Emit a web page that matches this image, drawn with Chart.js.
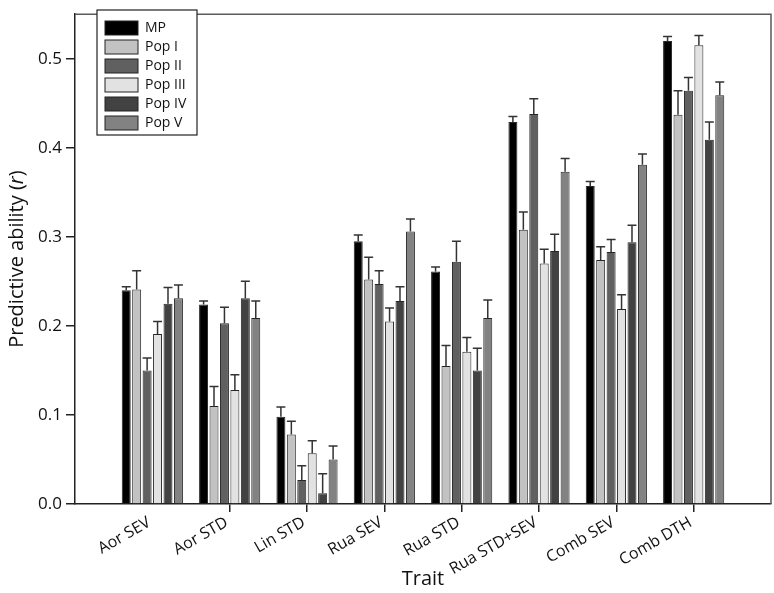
<!DOCTYPE html>
<html>
<head>
<meta charset="utf-8">
<title>Predictive ability by trait</title>
<script src="https://cdn.jsdelivr.net/npm/chart.js@4.4.1/dist/chart.umd.min.js"></script>
<style>
    html, body { margin: 0; padding: 0; background: #fff; }
    #chartBox { width: 774px; height: 593px; }
</style>
</head>
<body>
<div id="chartBox"><canvas id="abilityChart" width="774" height="593"></canvas></div>
<script>
// Traits on the x axis
const traits = ['Aor SEV', 'Aor STD', 'Lin STD', 'Rua SEV', 'Rua STD', 'Rua STD+SEV', 'Comb SEV', 'Comb DTH'];

// Mean predictive ability per population
const mpValues   = [0.240, 0.224, 0.098, 0.295, 0.261, 0.429, 0.357, 0.520];
const pop1Values = [0.241, 0.110, 0.078, 0.252, 0.155, 0.308, 0.274, 0.437];
const pop2Values = [0.150, 0.203, 0.027, 0.247, 0.272, 0.438, 0.283, 0.464];
const pop3Values = [0.191, 0.128, 0.057, 0.205, 0.171, 0.270, 0.219, 0.515];
const pop4Values = [0.225, 0.231, 0.012, 0.228, 0.150, 0.284, 0.294, 0.409];
const pop5Values = [0.231, 0.209, 0.050, 0.306, 0.209, 0.373, 0.381, 0.459];

// Standard errors (drawn upward only)
const mpErrors   = [0.004, 0.004, 0.011, 0.007, 0.005, 0.006, 0.005, 0.005];
const pop1Errors = [0.021, 0.022, 0.015, 0.025, 0.023, 0.020, 0.015, 0.027];
const pop2Errors = [0.014, 0.018, 0.016, 0.015, 0.023, 0.017, 0.014, 0.015];
const pop3Errors = [0.014, 0.017, 0.014, 0.015, 0.016, 0.016, 0.016, 0.011];
const pop4Errors = [0.018, 0.019, 0.022, 0.016, 0.025, 0.019, 0.019, 0.020];
const pop5Errors = [0.015, 0.019, 0.015, 0.014, 0.020, 0.015, 0.012, 0.015];

// Y axis ticks
const yTicks = [0.0, 0.1, 0.2, 0.3, 0.4, 0.5];

const FONT = '"Open Sans", "Noto Sans", sans-serif';

// one empty slot each side, like the original axis range
function pad(arr) {
    return [null].concat(arr, [null]);
}

const series = [
    { label: 'MP',     values: mpValues,   errors: mpErrors,   color: '#000000' },
    { label: 'Pop I',  values: pop1Values, errors: pop1Errors, color: '#c2c2c2' },
    { label: 'Pop II', values: pop2Values, errors: pop2Errors, color: '#606060' },
    { label: 'Pop III', values: pop3Values, errors: pop3Errors, color: '#e2e2e2' },
    { label: 'Pop IV', values: pop4Values, errors: pop4Errors, color: '#424242' },
    { label: 'Pop V',  values: pop5Values, errors: pop5Errors, color: '#828282' }
];

// Error bars on top of every bar
const errorBarPlugin = {
    id: 'errorBars',
    afterDatasetsDraw(chart) {
        const ctx = chart.ctx;
        const yScale = chart.scales.y;
        ctx.save();
        ctx.strokeStyle = '#333';
        ctx.lineWidth = 1.5;
        chart.data.datasets.forEach((ds, di) => {
            const meta = chart.getDatasetMeta(di);
            meta.data.forEach((bar, i) => {
                const v = ds.data[i];
                if (v === null) return;
                const err = ds.errors[i];
                const yTop = yScale.getPixelForValue(v);
                const yErr = yScale.getPixelForValue(v + err);
                const half = bar.width / 2;
                ctx.beginPath();
                ctx.moveTo(bar.x, yTop);
                ctx.lineTo(bar.x, yErr);
                ctx.moveTo(bar.x - half, yErr);
                ctx.lineTo(bar.x + half, yErr);
                ctx.stroke();
            });
        });
        ctx.restore();
    }
};

// Top/right frame, boxed legend and the y title with italic r
const decorPlugin = {
    id: 'decor',
    afterDraw(chart) {
        const ctx = chart.ctx;
        const area = chart.chartArea;
        ctx.save();

        // frame
        ctx.strokeStyle = '#5a5a5a';
        ctx.lineWidth = 1.5;
        ctx.beginPath();
        ctx.moveTo(area.left, area.top);
        ctx.lineTo(area.right, area.top);
        ctx.lineTo(area.right, area.bottom);
        ctx.stroke();

        // legend
        ctx.fillStyle = '#fff';
        ctx.fillRect(97, 10, 100, 125);
        ctx.strokeStyle = '#222';
        ctx.lineWidth = 1.2;
        ctx.strokeRect(97, 10, 100, 125);
        ctx.font = '14px ' + FONT;
        ctx.textBaseline = 'middle';
        chart.data.datasets.forEach((ds, i) => {
            const y = 21 + i * 19;
            ctx.fillStyle = ds.backgroundColor;
            ctx.fillRect(105, y, 33, 14);
            ctx.strokeStyle = '#222';
            ctx.lineWidth = 1;
            ctx.strokeRect(105, y, 33, 14);
            ctx.fillStyle = '#111';
            ctx.fillText(ds.label, 145, y + 7.5);
        });

        // y axis title
        const parts = [
            { text: 'Predictive ability (', font: '20px ' + FONT },
            { text: 'r', font: 'italic 20px ' + FONT },
            { text: ')', font: '20px ' + FONT }
        ];
        let total = 0;
        parts.forEach(p => {
            ctx.font = p.font;
            p.w = ctx.measureText(p.text).width;
            total += p.w;
        });
        ctx.translate(17, (area.top + area.bottom) / 2);
        ctx.rotate(-Math.PI / 2);
        ctx.fillStyle = '#111';
        ctx.textBaseline = 'middle';
        let x = -total / 2;
        parts.forEach(p => {
            ctx.font = p.font;
            ctx.fillText(p.text, x, 0);
            x += p.w;
        });
        ctx.restore();
    }
};

function initAbilityChart() {
    const ctx = document.getElementById('abilityChart').getContext('2d');
    const labels = pad(traits);

    const datasets = series.map(s => ({
        label: s.label,
        data: pad(s.values),
        errors: pad(s.errors),
        backgroundColor: s.color,
        borderColor: '#262626',
        borderWidth: 1,
        categoryPercentage: 0.81,
        barPercentage: 0.86
    }));

    new Chart(ctx, {
        type: 'bar',
        data: { labels: labels, datasets: datasets },
        options: {
            responsive: false,
            animation: false,
            devicePixelRatio: 1,
            layout: { padding: { top: 3, right: 3, left: 0, bottom: 0 } },
            plugins: {
                legend: { display: false },
                tooltip: { enabled: false }
            },
            scales: {
                x: {
                    offset: false,
                    grid: {
                        offset: false,
                        drawOnChartArea: false,
                        drawTicks: true,
                        tickLength: 8,
                        lineWidth: 1.5,
                        color: c => (c.index === 0 || c.index === labels.length - 1) ? 'rgba(0,0,0,0)' : '#222'
                    },
                    border: { color: '#222', width: 1.5 },
                    ticks: {
                        minRotation: 30,
                        maxRotation: 30,
                        autoSkip: false,
                        labelOffset: -3,
                        padding: 1,
                        color: '#111',
                        font: { family: FONT, size: 16 }
                    },
                    title: {
                        display: true,
                        text: 'Trait',
                        color: '#111',
                        font: { family: FONT, size: 20 },
                        padding: { top: 0, bottom: 2 }
                    },
                    afterFit: scale => { scale.height = 89; }
                },
                y: {
                    min: 0,
                    max: 0.55,
                    afterBuildTicks: scale => {
                        scale.ticks = yTicks.map(v => ({ value: v }));
                    },
                    grid: {
                        drawOnChartArea: false,
                        drawTicks: true,
                        tickLength: 9,
                        lineWidth: 1.5,
                        color: '#222'
                    },
                    border: { color: '#222', width: 1.5 },
                    ticks: {
                        color: '#111',
                        padding: 4,
                        font: { family: FONT, size: 17 },
                        callback: v => Number(v).toFixed(1)
                    },
                    afterFit: scale => { scale.width = 75; }
                }
            }
        },
        plugins: [errorBarPlugin, decorPlugin]
    });
}

document.addEventListener('DOMContentLoaded', function () {
    initAbilityChart();
});
</script>
</body>
</html>
